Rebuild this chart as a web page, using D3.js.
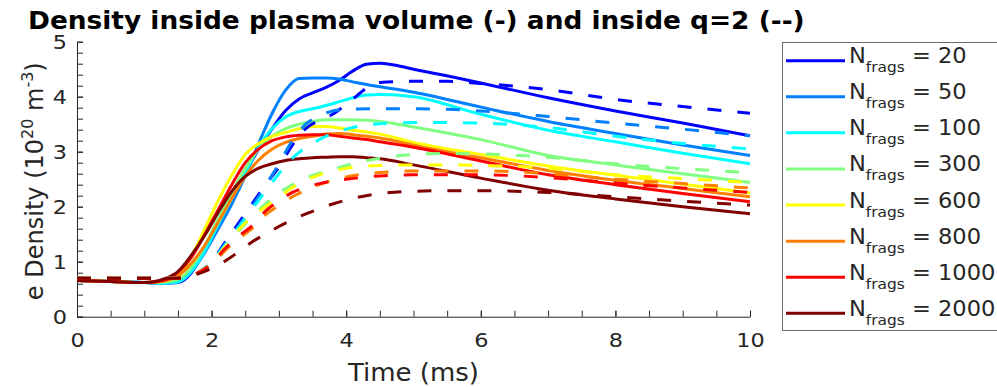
<!DOCTYPE html>
<html>
<head>
<meta charset="utf-8">
<script src="https://cdn.jsdelivr.net/npm/d3@7"></script>
<style>
  body { margin: 0; background: #fff; }
  svg { display: block; font-family: "DejaVu Sans", sans-serif; }
</style>
</head>
<body>
<div id="chart"></div>
<script>
// number of fragments per run (legend order)
var nfrags = [20, 50, 100, 300, 600, 800, 1000, 2000];
var colors = ['#0000ff', '#0080ff', '#00ffff', '#80ff80', '#ffff00', '#ff8000', '#ff0000', '#800000'];

// time grid (ms) for the solid curves (plasma volume)
var tSolid = [0, 0.5, 1.0, 1.3, 1.5, 1.7, 1.9, 2.1, 2.3, 2.5, 2.7, 2.9, 3.1, 3.3, 3.5, 3.7, 3.9, 4.1, 4.3, 4.5, 5, 6, 7, 8, 9, 10];
var solid20   = [0.66,0.64,0.62,0.61,0.62,0.80,1.22,1.68,2.15,2.62,3.05,3.42,3.75,3.96,4.07,4.17,4.30,4.47,4.59,4.61,4.50,4.25,3.98,3.74,3.52,3.29];
var solid50   = [0.66,0.64,0.62,0.61,0.63,0.82,1.17,1.60,2.05,2.56,3.15,3.70,4.12,4.33,4.34,4.34,4.32,4.27,4.22,4.18,4.08,3.81,3.55,3.33,3.12,2.93];
var solid100  = [0.66,0.64,0.62,0.61,0.63,0.82,1.20,1.68,2.15,2.62,3.08,3.42,3.63,3.73,3.78,3.84,3.91,3.98,4.03,4.04,4.00,3.68,3.39,3.18,2.97,2.78];
var solid300  = [0.66,0.64,0.62,0.63,0.68,0.90,1.30,1.78,2.25,2.70,3.05,3.28,3.42,3.50,3.55,3.58,3.58,3.58,3.57,3.55,3.45,3.22,2.93,2.76,2.60,2.44];
var solid600  = [0.66,0.64,0.62,0.65,0.77,1.10,1.60,2.12,2.57,2.95,3.15,3.28,3.35,3.42,3.46,3.46,3.43,3.39,3.36,3.32,3.17,2.95,2.74,2.57,2.41,2.25];
var solid800  = [0.66,0.64,0.62,0.65,0.74,0.97,1.30,1.72,2.15,2.55,2.85,3.05,3.17,3.24,3.28,3.32,3.33,3.31,3.28,3.25,3.12,2.89,2.66,2.48,2.33,2.18];
var solid1000 = [0.66,0.64,0.62,0.66,0.81,1.08,1.50,1.95,2.40,2.80,3.05,3.20,3.27,3.30,3.31,3.31,3.28,3.25,3.22,3.18,3.08,2.83,2.58,2.40,2.24,2.09];
var solid2000 = [0.66,0.64,0.62,0.69,0.82,1.12,1.48,1.90,2.28,2.55,2.70,2.78,2.84,2.87,2.89,2.90,2.91,2.91,2.89,2.87,2.76,2.52,2.30,2.14,2.00,1.87];

// time grid (ms) for the dashed curves (inside q=2)
var tDash = [0, 0.5, 1.0, 1.4, 1.6, 1.8, 2.0, 2.2, 2.4, 2.6, 2.8, 3.0, 3.2, 3.4, 3.6, 3.8, 4.0, 4.5, 5, 5.5, 6, 7, 8, 9, 10];
var dash20   = [0.70,0.70,0.70,0.70,0.71,0.80,1.00,1.35,1.70,2.05,2.40,2.72,3.12,3.42,3.57,3.68,3.86,4.26,4.28,4.28,4.24,4.13,3.95,3.82,3.70];
var dash50   = [0.70,0.70,0.70,0.70,0.71,0.80,1.00,1.32,1.65,2.00,2.38,2.78,3.20,3.50,3.65,3.74,3.77,3.78,3.78,3.77,3.74,3.64,3.52,3.41,3.29];
var dash100  = [0.70,0.70,0.70,0.70,0.71,0.80,1.00,1.30,1.62,1.95,2.28,2.60,2.88,3.08,3.22,3.33,3.41,3.51,3.53,3.53,3.52,3.44,3.28,3.15,3.05];
var dash300  = [0.70,0.70,0.70,0.70,0.71,0.79,0.98,1.27,1.55,1.82,2.05,2.25,2.40,2.52,2.61,2.68,2.75,2.88,2.95,2.97,2.96,2.90,2.78,2.69,2.62];
var dash600  = [0.70,0.70,0.70,0.70,0.71,0.80,0.98,1.27,1.58,1.82,2.00,2.17,2.35,2.48,2.58,2.65,2.70,2.75,2.76,2.76,2.75,2.70,2.58,2.51,2.44];
var dash800  = [0.70,0.70,0.70,0.70,0.71,0.79,0.95,1.20,1.42,1.60,1.85,2.02,2.18,2.30,2.40,2.48,2.54,2.62,2.65,2.65,2.65,2.60,2.50,2.42,2.34];
var dash1000 = [0.70,0.70,0.70,0.70,0.71,0.80,0.97,1.24,1.46,1.65,1.92,2.10,2.26,2.35,2.42,2.47,2.50,2.56,2.58,2.58,2.58,2.53,2.43,2.34,2.26];
var dash2000 = [0.70,0.70,0.70,0.70,0.71,0.78,0.88,1.01,1.18,1.36,1.50,1.64,1.76,1.87,1.96,2.05,2.12,2.24,2.28,2.29,2.29,2.26,2.18,2.10,2.03];

var xTicks = [0, 2, 4, 6, 8, 10];
var yTicks = [0, 1, 2, 3, 4, 5];

var solids = [solid20, solid50, solid100, solid300, solid600, solid800, solid1000, solid2000];
var dashes = [dash20, dash50, dash100, dash300, dash600, dash800, dash1000, dash2000];

var svgWidth = 997, svgHeight = 387;
var axisColor = '#262626';

var svg = d3.select('#chart').append('svg')
  .attr('width', svgWidth)
  .attr('height', svgHeight);

var xScale = d3.scaleLinear().domain([0, 10]).range([77, 750]);
var yScale = d3.scaleLinear().domain([0, 5]).range([316.7, 41.7]);

// minor ticks
svg.append('g')
  .attr('transform', `translate(0, ${yScale(0)})`)
  .call(d3.axisBottom(xScale).tickValues(d3.range(0, 10.01, 0.5)).tickFormat('').tickSize(-6).tickSizeOuter(0))
  .call(g => g.select('.domain').remove())
  .selectAll('line').attr('stroke', axisColor);

svg.append('g')
  .attr('transform', `translate(${xScale(0)}, 0)`)
  .call(d3.axisLeft(yScale).tickValues(d3.range(0, 5.01, 0.2)).tickFormat('').tickSize(-6).tickSizeOuter(0))
  .call(g => g.select('.domain').remove())
  .selectAll('line').attr('stroke', axisColor);

// major axes
var xAxisG = svg.append('g')
  .attr('transform', `translate(0, ${yScale(0)})`)
  .call(d3.axisBottom(xScale).tickValues(xTicks).tickFormat(d3.format('d')).tickSize(-6).tickSizeOuter(0).tickPadding(16));
var yAxisG = svg.append('g')
  .attr('transform', `translate(${xScale(0)}, 0)`)
  .call(d3.axisLeft(yScale).tickValues(yTicks).tickFormat(d3.format('d')).tickSize(-6).tickSizeOuter(0));

[xAxisG, yAxisG].forEach(function(g) {
  g.attr('font-family', null).attr('font-size', null);
  g.select('.domain').attr('stroke', axisColor);
  g.selectAll('line').attr('stroke', axisColor);
  g.selectAll('text').attr('fill', axisColor).style('font-size', '20px');
});
xAxisG.selectAll('text').attr('transform', 'scale(1.12,1)');
yAxisG.selectAll('text').attr('x', 0).attr('dy', '0.36em')
  .attr('transform', 'translate(-10,0) scale(1.12,1)');

// curves
var line = d3.line()
  .x(d => xScale(d[0]))
  .y(d => yScale(d[1]))
  .curve(d3.curveMonotoneX);

var plot = svg.append('g');

solids.forEach(function(vals, i) {
  plot.append('path')
    .datum(d3.zip(tSolid, vals))
    .attr('d', line)
    .attr('fill', 'none')
    .attr('stroke', colors[i])
    .attr('stroke-width', 3)
    .attr('stroke-linejoin', 'round');
});

dashes.forEach(function(vals, i) {
  plot.append('path')
    .datum(d3.zip(tDash, vals))
    .attr('d', line)
    .attr('fill', 'none')
    .attr('stroke', colors[i])
    .attr('stroke-width', 3)
    .attr('stroke-dasharray', '14,16');
});

// title
svg.append('text')
  .attr('transform', 'translate(28, 29) scale(1.1,1)')
  .attr('font-weight', 'bold')
  .attr('font-size', '24px')
  .attr('fill', '#000')
  .text('Density inside plasma volume (-) and inside q=2 (--)');

// x label
svg.append('text')
  .attr('transform', `translate(${(xScale(0) + xScale(10)) / 2}, 381) scale(1.04,1)`)
  .attr('text-anchor', 'middle')
  .attr('font-size', '25px')
  .attr('fill', axisColor)
  .text('Time (ms)');

// y label
var ylab = svg.append('text')
  .attr('transform', `translate(43, ${(yScale(0) + yScale(5)) / 2 + 2}) rotate(-90)`)
  .attr('text-anchor', 'middle')
  .attr('font-size', '24px')
  .attr('fill', axisColor);
ylab.append('tspan').text('e Density (10');
ylab.append('tspan').attr('font-size', '16px').attr('dy', -10).text('20');
ylab.append('tspan').attr('dy', 10).text(' m');
ylab.append('tspan').attr('font-size', '16px').attr('dy', -10).text('-3');
ylab.append('tspan').attr('dy', 10).text(')');

// legend
var legend = svg.append('g');
legend.append('rect')
  .attr('x', 782.5).attr('y', 42.5)
  .attr('width', 240).attr('height', 288)
  .attr('fill', '#fff')
  .attr('stroke', '#6e6e6e')
  .attr('stroke-width', 1);

var rowY = d3.scaleLinear().domain([0, 7]).range([60.7, 313.3]);

nfrags.forEach(function(n, i) {
  var yy = rowY(i);
  legend.append('line')
    .attr('x1', 786).attr('x2', 845)
    .attr('y1', yy).attr('y2', yy)
    .attr('stroke', colors[i])
    .attr('stroke-width', 3);
  var t = legend.append('text')
    .attr('transform', `translate(849, ${yy + 2.5}) scale(1.1,1)`)
    .attr('font-size', '20.5px')
    .attr('fill', axisColor);
  t.append('tspan').text('N');
  t.append('tspan').attr('font-size', '14px').attr('dy', 9).text('frags');
  t.append('tspan').attr('dy', -9).text(' = ' + n);
});
</script>
</body>
</html>
